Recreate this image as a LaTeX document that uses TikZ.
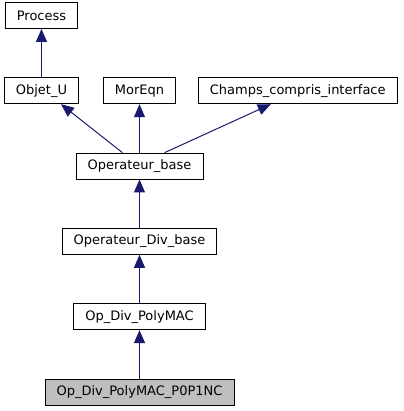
\documentclass[tikz,border=0pt]{standalone}
\usepackage{fontspec}
\setmainfont{DejaVu Sans}
\usetikzlibrary{chains, positioning, arrows.meta}
\newcommand{\classNodeDistance}{48.5pt}
\definecolor{edgeBlue}{HTML}{191970}
\definecolor{focusGray}{HTML}{BFBFBF}
\tikzstyle{classBox}=[draw=black, line width=0.8pt, fill=white, minimum height=26pt, inner xsep=11.5pt, inner ysep=0pt, font=\fontsize{13}{15}\selectfont]
\tikzstyle{inherit}=[draw, color=edgeBlue, line width=1pt, -{Triangle[length=13pt, width=11pt]}]
\tikzstyle{joined}=[join=by inherit]
\begin{document}
\begin{tikzpicture}[node distance = \classNodeDistance]
    \useasboundingbox (0,0) rectangle (403pt,-411pt);
    \begin{scope}[start chain=going above, every node/.style={on chain}]
      \node[classBox, fill=focusGray] (p0p1nc) at (139.5pt,-392pt) {Op\_Div\_PolyMAC\_P0P1NC};
      \node[classBox, joined] (polyMac) {Op\_Div\_PolyMAC};
      \node[classBox, joined] (divBase) {Operateur\_Div\_base};
      \node[classBox, joined] (opBase) {Operateur\_base};
    \end{scope}
    \node[classBox, above=of opBase] (morEqn) {MorEqn};
    \node[classBox, left=24pt of morEqn] (objetU) {Objet\_U};
    \node[classBox, right=22pt of morEqn] (champs) {Champs\_compris\_interface};
    \node[classBox, above=of objetU] (process) {Process};
    \draw[inherit] (objetU) -- (process);
    \draw[inherit] ([xshift=-17pt]opBase.north) -- ([xshift=19.5pt]objetU.south);
    \draw[inherit] (opBase) -- (morEqn);
    \draw[inherit] ([xshift=25pt]opBase.north) -- ([xshift=-27pt]champs.south);
  \end{tikzpicture}
\end{document}
